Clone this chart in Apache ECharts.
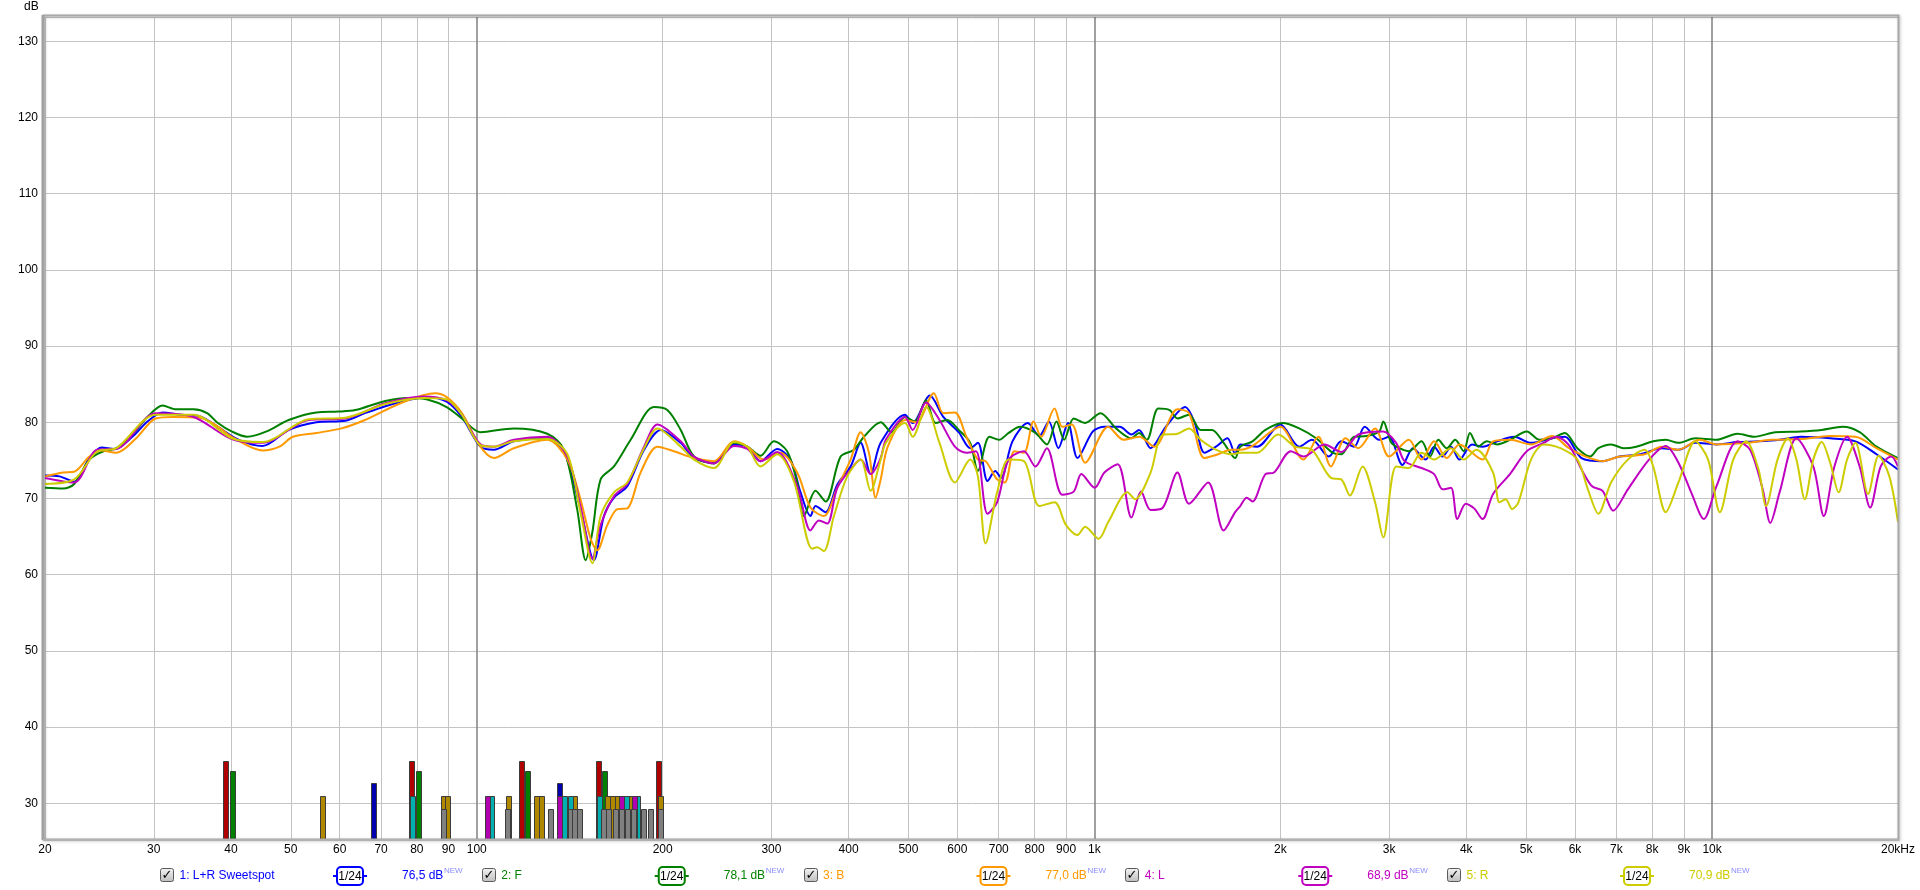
<!DOCTYPE html>
<html><head><meta charset="utf-8">
<script src="https://cdn.jsdelivr.net/npm/echarts@6/dist/echarts.min.js"></script>
<style>html,body{margin:0;padding:0;background:#fff}#c{width:1920px;height:890px}</style>
</head><body><div id="c"></div><script>
// ---------- data ----------
const freqTicks = [20,30,40,50,60,70,80,90,100,200,300,400,500,600,700,800,900,1000,2000,3000,4000,5000,6000,7000,8000,9000,10000,20000];
const freqTickLabels = ['20','30','40','50','60','70','80','90','100','200','300','400','500','600','700','800','900','1k','2k','3k','4k','5k','6k','7k','8k','9k','10k','20kHz'];
const decadeFreqs = [100,1000,10000];

const seriesNames = ['1: L+R Sweetspot','2: F','3: B','4: L','5: R'];
const seriesColors = ['#0000ff','#008000','#ff9900','#c000c0','#cccc00'];
const seriesLevels = ['76,5 dB','78,1 dB','77,0 dB','68,9 dB','70,9 dB'];

const sweetspot = [[20,73.0],[21.1,72.9],[22.3,72.2],[23.6,75.3],[24.7,76.7],[25.9,76.5],[27.7,78.1],[29.3,80.1],[31.0,81.3],[33.1,81.0],[35.6,80.8],[38.1,79.4],[41.2,77.7],[45.0,76.9],[49.6,79.0],[55,80.0],[61.3,80.2],[65.9,81.2],[75.3,82.7],[83.2,83.3],[89.4,82.7],[94.6,80.7],
[101.4,76.8],[106.6,76.4],[114.8,77.5],[130.1,77.9],[138.4,76.2],[147.2,68.6],[154.8,61.9],[160.7,67.7],[166.8,70.1],[175.3,71.6],[186.6,76.4],[198.5,79.0],[213.9,77.3],[224.8,75.3],[242.2,74.7],[260.9,77.1],[274.2,76.8],[288.1,74.9],[306.5,76.5],[322.1,75.1],[334.4,70.8],[347.1,67.7],[353.6,69.0],[367.1,68.2],[383.4,71.8],[403,74.2],[418.4,77.3],[434.2,73.2],[450.8,77.3],
[493.6,81.0],[507.9,79.9],[541.6,83.5],[569.4,80.7],[603,78.7],[629.4,76.6],[647.7,77.3],[671.4,72.3],[690.9,73.6],[705.8,72.7],[736.8,77.5],[780.1,79.9],[814.2,78.2],[843.8,80.1],[874.4,76.6],[906.2,79.9],[939.1,75.3],[994.3,78.8],[1038,79.4],[1099,79.4],[1148,78.4],[1181,79.0],[1233,76.6],[1305,79.4],[1403,82.0],[1454,79.9],[1507,76.0],[1573,76.8],[1642,77.9],[1690,75.9],
[1722,77.1],[1834,76.8],[2000,79.7],[2147,76.8],[2250,77.7],[2396,75.5],[2510,77.5],[2633,76.8],[2739,79.4],[2892,77.7],[3000,78.1],[3153,74.4],[3280,76.6],[3438,75.1],[3548,76.8],[3661,75.5],[3778,76.8],[3899,75.1],[4087,77.1],[4250,76.8],[4491,77.5],[4782,78.1],[5092,77.3],[5508,77.9],[5776,78.1],[6148,75.3],[6649,74.9],[7080,75.5],[7663,75.8],[8284,76.6],[8822,76.4],[9394,77.3],[10164,77.1],[10994,77.4],[11892,77.5],[12862,77.7],[13916,78.1],[15530,77.9],[17066,77.5],[18462,75.8],[20000,73.8]];

const front = [[20,71.4],[21.4,71.3],[22.3,71.9],[23.6,75.1],[24.7,76.1],[26.1,76.6],[27.7,78.4],[29.3,80.7],[31.0,82.2],[32.6,81.7],[34.8,81.7],[36.6,81.2],[38.1,79.9],[40.1,78.8],[42.5,78.1],[45.7,78.8],[49.6,80.3],[55,81.3],[59.7,81.4],[63.6,81.6],[71.1,82.8],[77.5,83.2],[83.2,83.0],[89.4,82.0],[94.6,80.5],
[101.4,78.7],[114.8,79.2],[130.1,78.5],[138.4,76.4],[145.4,68.6],[150.1,61.9],[153.9,65.6],[158.7,72.5],[166.8,74.2],[177.5,77.7],[193.6,82.0],[203.5,81.6],[213.9,79.0],[224.8,75.5],[242.2,74.6],[260.9,77.3],[274.2,76.8],[288.1,75.6],[302.7,77.5],[318.1,76.2],[330.2,72.1],[338.6,67.7],[353.6,71.0],[367.1,69.6],[388.2,75.5],[408.1,76.4],[423.6,78.1],[450.8,80.0],
[469.6,78.7],[493.6,80.7],[511.6,80.1],[534,82.9],[553.4,79.9],[577.7,80.3],[603,79.0],[629.4,77.3],[647.7,73.6],[676.2,78.1],[700.8,77.7],[726.4,78.6],[758.1,79.4],[802.7,78.6],[837.8,77.1],[868.2,80.1],[893.3,77.7],[925.8,80.5],[966.3,79.9],[1023,81.2],[1084,79.2],[1148,77.9],[1181,78.6],[1216,77.7],[1269,81.8],[1324,81.6],[1363,80.5],[1423,81.0],[1486,79.0],[1550,79.0],[1619,77.3],[1690,75.3],
[1722,76.8],[1803,77.5],[1892,79.0],[2016,79.9],[2146,79.2],[2285,77.9],[2432,76.0],[2510,75.8],[2633,78.1],[2759,78.2],[2892,78.8],[2936,80.1],[3026,77.3],[3118,76.6],[3229,76.2],[3385,77.5],[3494,75.5],[3605,77.7],[3719,76.6],[3839,77.7],[3962,76.2],[4055,78.6],[4184,76.8],[4318,77.5],[4491,77.1],[4707,77.7],[5012,78.8],[5255,77.7],[5508,77.9],[5776,78.6],[6053,76.6],[6345,75.5],[6546,76.6],[6862,77.1],[7192,76.6],[7540,76.8],[8030,77.5],[8416,77.7],[8822,77.3],[9394,77.9],[10164,77.7],[10994,78.5],[11706,78.1],[12662,78.7],[13916,78.8],[15046,79.0],[16276,79.4],[17334,78.7],[18462,76.8],[20000,75.3]];

const back = [[20,72.9],[21.4,73.4],[22.3,73.5],[23.6,75.5],[24.7,76.3],[26.1,76.0],[28.1,77.9],[30.2,80.5],[32.3,80.7],[35.6,80.6],[37.7,79.7],[40.1,78.1],[45.0,76.3],[47.9,76.8],[50.4,78.1],[55,78.6],[60.4,79.2],[65.9,80.3],[75.3,82.5],[85.6,83.8],[89.4,83.3],[94.6,81.2],
[101.4,76.8],[106.6,75.3],[114.8,76.6],[130.1,77.7],[140.2,75.1],[147.2,69.9],[152.9,64.7],[156.7,63.2],[162.7,66.5],[168.9,68.6],[175.3,68.7],[184.2,73.4],[196.1,76.8],[208.6,76.2],[224.8,75.3],[242.2,74.9],[260.9,77.5],[274.2,76.8],[291.7,75.1],[310.3,76.0],[330.2,73.4],[347.1,68.8],[364.8,67.7],[383.4,71.4],[403,75.1],[418.4,78.7],[431.5,76.0],[442.4,70.1],[450.8,72.5],
[462.9,76.8],[493.6,80.3],[515.3,80.0],[549.4,83.8],[569.4,81.2],[594.5,81.3],[620.5,78.1],[647.7,75.1],[666.6,74.9],[695.8,72.5],[716,72.1],[742.1,76.2],[769,76.0],[797,80.1],[820.1,78.1],[862,81.8],[887,79.4],[919.2,79.7],[966.3,74.7],[1053,79.4],[1115,77.7],[1181,78.1],[1251,76.8],[1363,81.7],[1423,81.2],[1507,75.3],[1573,75.7],[1666,76.4],
[1722,76.4],[1803,76.9],[2000,79.4],[2180,75.1],[2304,78.1],[2415,74.2],[2550,77.9],[2675,76.6],[2847,79.2],[3000,75.5],[3229,77.7],[3385,75.1],[3548,77.5],[3719,75.3],[3899,77.1],[4250,75.1],[4421,77.5],[4707,77.7],[5092,77.1],[5508,78.2],[5866,76.6],[6245,75.5],[6649,74.9],[7080,75.5],[7781,75.8],[8284,76.8],[8822,76.4],[9544,77.7],[10164,77.1],[11350,77.3],[12462,77.7],[13916,77.8],[15530,78.2],[17066,78.1],[18462,76.6],[20000,75.1]];

const left = [[20,72.7],[22.3,72.1],[24.3,76.4],[26.1,76.5],[30.2,81.2],[34.8,80.7],[40.1,77.8],[45.0,77.3],[53.4,80.3],[61.3,80.5],[71.1,82.5],[82.0,83.4],[89.4,82.9],[94.6,81.0],
[101.4,77.1],[106.6,76.8],[114.8,77.7],[130.1,78.1],[140.2,75.5],[147.2,69.0],[153.9,62.1],[158.7,66.5],[166.8,70.3],[175.3,71.9],[186.6,76.8],[196.1,79.7],[213.9,77.5],[224.8,75.5],[242.2,74.6],[260.9,76.9],[274.2,76.5],[288.1,74.9],[306.5,76.1],[330.2,71.6],[347.1,65.8],[358,67.1],[369.4,66.7],[383.4,71.4],[403,73.8],[418.4,75.1],[434.2,73.2],[450.8,75.3],
[459.6,77.7],[493.6,80.7],[507.9,79.0],[534,82.6],[561.3,80.3],[594.5,76.8],[620.5,76.0],[643.1,76.2],[671.4,68.0],[695.8,69.5],[726.4,75.1],[769,76.2],[802.7,74.2],[837.8,76.6],[887,70.5],[925.8,70.9],[952.6,73.2],[1001,71.4],[1038,73.4],[1091,74.5],[1148,67.5],[1190,70.9],[1233,68.5],[1287,68.7],[1363,73.4],[1423,69.3],[1528,72.1],[1619,65.8],[1690,68.2],
[1722,69.0],[1764,70.1],[1803,69.6],[1892,73.2],[1953,73.4],[2080,76.2],[2180,75.5],[2358,77.1],[2510,76.1],[2675,78.4],[2936,78.8],[3080,77.3],[3178,74.9],[3385,74.0],[3548,73.2],[3661,71.2],[3778,71.4],[3869,67.3],[3992,69.3],[4119,68.7],[4250,67.3],[4421,70.6],[4707,73.2],[5012,76.2],[5338,77.3],[5594,78.1],[5866,77.0],[6148,73.8],[6393,71.6],[6649,71.0],[6916,68.4],[7306,71.2],[7906,75.1],[8416,76.9],[8822,74.7],[9252,70.8],[9698,67.3],[10164,71.6],[10994,77.5],[11524,76.4],[12078,71.2],[12424,66.8],[12862,70.8],[13696,77.9],[14586,74.2],[15168,67.7],[15778,74.2],[16540,78.1],[17334,74.2],[18032,68.8],[18752,74.2],[19504,75.5],[20000,74.2]];

const right = [[20,71.9],[22.3,72.5],[24.3,76.2],[26.1,76.6],[30.2,81.0],[34.8,81.0],[40.1,77.9],[45.0,77.4],[53.4,80.4],[61.3,80.6],[71.1,82.4],[82.0,83.2],[89.4,83.0],[94.6,81.0],
[101.4,77.0],[106.6,76.8],[114.8,77.5],[130.1,77.8],[140.2,75.8],[147.2,68.2],[153.9,61.5],[158.7,67.7],[166.8,70.8],[175.3,72.1],[186.6,76.6],[196.1,79.2],[213.9,76.8],[224.8,75.1],[242.2,74.0],[260.9,77.4],[274.2,76.8],[288.1,74.2],[306.5,75.8],[326.1,72.3],[349.2,63.4],[355.8,63.6],[364.8,63.1],[378.7,67.7],[398,72.9],[418.4,75.1],[434.2,71.0],[450.8,75.1],
[459.6,77.3],[493.6,79.9],[507.9,78.1],[534,82.0],[561.3,77.3],[594.5,72.1],[629.4,75.1],[647.7,72.9],[666.6,64.1],[695.8,70.8],[726.4,75.1],[769,74.9],[814.2,69.0],[862,69.5],[899.7,66.5],[939.1,65.2],[966.3,66.3],[1016,64.7],[1053,66.9],[1131,70.8],[1164,69.9],[1233,73.4],[1287,78.3],[1363,78.5],[1423,79.2],[1486,77.7],[1573,76.4],[1666,75.8],
[1722,76.0],[1834,76.0],[1984,78.4],[2113,76.8],[2250,76.4],[2415,72.7],[2510,72.5],[2592,70.4],[2717,74.2],[2847,69.5],[2936,64.9],[3080,74.2],[3229,74.0],[3385,76.0],[3548,75.1],[3778,76.6],[3962,75.1],[4152,76.4],[4421,73.4],[4526,69.5],[4634,69.9],[4745,68.6],[4858,69.5],[5092,75.1],[5338,77.1],[5682,76.6],[6053,75.1],[6294,71.2],[6546,68.0],[6862,72.1],[7306,75.1],[7781,76.4],[8030,74.2],[8416,68.2],[8822,72.1],[9394,77.5],[9853,75.1],[10294,68.2],[10822,75.1],[11350,77.5],[11892,73.8],[12230,69.0],[12762,75.1],[13270,77.9],[13696,75.1],[14132,69.9],[14586,75.1],[15046,77.4],[15530,74.7],[16028,70.8],[16540,75.1],[17066,77.3],[17890,70.6],[18606,75.6],[19352,73.0],[20000,66.9]];

// bottom marker bars: frequency lists per colour group, with their level in dB
const barRedFreqs = [39.3,78.7,118.3,157.9,197.6];
const barGreenFreqs = [40.25,80.5,120.9,161.4];
const barBlueFreqs = [68.1,136.3];
const barOliveFreqs = [56.3,88.4,89.7,112.7,125.2,127.5,144.3,163.4,166.5,169.2,177.3,199];
const barCyanFreqs = [78.9,105.9,138.8,142.1,158.5,175.1,182.7];
const barMagentaFreqs = [104.3,136.3,171.8,180.4];
const barGrayFreqs = [88.4,112.3,131.8,142.1,144.3,147,160.5,164,168,172,176,180,186.4,191.2,199];
const barLevels = [35.6,34.2,32.6,31.0,31.0,31.0,29.3];
const barColors = ['#b00000','#008000','#0000b0','#b08800','#00b0b0','#b000b0','#808080'];
const barFreqGroups = [barRedFreqs,barGreenFreqs,barBlueFreqs,barOliveFreqs,barCyanFreqs,barMagentaFreqs,barGrayFreqs];

const Y_MIN = 25.3, Y_MAX = 133.2;
const FONT = '"Liberation Sans", Arial, sans-serif';

// ---------- build ----------
const barData = [];
barFreqGroups.forEach((g, gi) => g.forEach(f => barData.push([f, barLevels[gi], gi])));

const gridMarks = freqTicks.map((f, i) => {
  const major = decadeFreqs.indexOf(f) >= 0;
  return {
    xAxis: f,
    label: { formatter: freqTickLabels[i] },
    lineStyle: { color: major ? '#808080' : '#c4c4c4', width: major ? 1.5 : 1, type: 'solid' }
  };
});

const curveData = [sweetspot, front, back, left, right];
const series = [];
series.push({
  type: 'line', data: [[20, Y_MIN]], symbol: 'none', lineStyle: { opacity: 0 }, silent: true, z: 1,
  markLine: {
    silent: true, symbol: ['none','none'], z: 1, animation: false,
    label: { show: true, position: 'start', distance: 5, color: '#000', fontSize: 12, fontFamily: FONT },
    data: gridMarks
  }
});
series.push({
  type: 'custom', z: 4, silent: true, clip: true,
  data: barData,
  encode: { x: 0, y: 1 },
  renderItem: (params, api) => {
    const f = api.value(0), lv = api.value(1), ci = api.value(2);
    const top = api.coord([f, lv]);
    const bot = api.coord([f, Y_MIN]);
    return { type: 'rect', shape: { x: Math.round(top[0]) - 2.5, y: Math.round(top[1]) + 0.5, width: 5, height: bot[1] - top[1] },
      style: { fill: barColors[ci], stroke: '#3c3c3c', lineWidth: 1 } };
  }
});
curveData.forEach((d, i) => series.push({
  type: 'line', name: seriesNames[i], data: d, symbol: 'none', showSymbol: false, smooth: 0.3,
  lineStyle: { color: seriesColors[i], width: 2 }, itemStyle: { color: seriesColors[i] }, z: 5 + i, clip: true, silent: true
}));

// legend graphics
const graphics = [];
graphics.push({ type: 'text', left: 24, top: 1, style: { text: 'dB', fontSize: 12, fontFamily: FONT, fill: '#000' } });
graphics.push({ type: 'rect', shape: { x: 43.5, y: 15.5, width: 1855, height: 824 }, style: { fill: 'none', stroke: '#a8a8a8', lineWidth: 2, shadowBlur: 3, shadowColor: 'rgba(0,0,0,0.25)', shadowOffsetX: 1, shadowOffsetY: 1 }, z: 100, silent: true });
graphics.push({ type: 'line', shape: { x1: 43, y1: 15, x2: 43, y2: 840 }, style: { stroke: '#a0a0a0', lineWidth: 3 }, z: 101 });
graphics.push({ type: 'line', shape: { x1: 43, y1: 840, x2: 1899, y2: 840 }, style: { stroke: '#b0b0b0', lineWidth: 2 }, z: 101 });
const LY = 876;
seriesNames.forEach((name, i) => {
  const x0 = 160 + i * 321.75;
  const c = seriesColors[i];
  graphics.push({ type: 'rect', shape: { x: Math.round(x0) + 0.5, y: LY - 7.5, width: 13, height: 13, r: 2 },
    style: { fill: new echarts.graphic.LinearGradient(0,0,0,1,[{offset:0,color:'#f4f4f4'},{offset:1,color:'#bdbdbd'}]), stroke: '#5a5a5a', lineWidth: 1 }, z: 10 });
  graphics.push({ type: 'text', x: Math.round(x0) + 7, y: LY, style: { text: '✓', fontSize: 13, fontWeight: 'bold', fontFamily: '"DejaVu Sans", sans-serif', fill: '#000', align: 'center', verticalAlign: 'middle' }, z: 11 });
  graphics.push({ type: 'text', x: x0 + 19.5, y: LY, style: { text: name, fontSize: 12, fontFamily: FONT, fill: c, verticalAlign: 'middle' }, z: 11 });
  const ix = x0 + 173;
  graphics.push({ type: 'line', shape: { x1: ix, y1: LY, x2: ix + 34, y2: LY }, style: { stroke: c, lineWidth: 2 }, z: 10 });
  graphics.push({ type: 'rect', shape: { x: ix + 4, y: LY - 9, width: 26, height: 18, r: 4 }, style: { fill: '#fff', stroke: c, lineWidth: 2 }, z: 11 });
  graphics.push({ type: 'text', x: ix + 17, y: LY + 1, style: { text: '1/24', fontSize: 12, fontFamily: FONT, fill: '#000', align: 'center', verticalAlign: 'middle' }, z: 12 });
  const vx = x0 + 242;
  graphics.push({ type: 'text', x: vx, y: LY, style: { text: seriesLevels[i], fontSize: 12, fontFamily: FONT, fill: c, verticalAlign: 'middle' }, z: 11 });
  graphics.push({ type: 'text', x: vx + 42, y: LY - 9, style: { text: 'NEW', fontSize: 8, fontFamily: FONT, fill: '#8c8cff', verticalAlign: 'top' }, z: 11 });
});

const chart = echarts.init(document.getElementById('c'), null, { renderer: 'canvas' });
chart.setOption({
  animation: false,
  backgroundColor: '#fff',
  grid: { left: 45, right: 22, top: 17, bottom: 51, show: false },
  xAxis: {
    type: 'log', logBase: 10, min: 20, max: 20000,
    axisLine: { show: false }, axisTick: { show: false }, axisLabel: { show: false },
    splitLine: { show: false }, minorSplitLine: { show: false }
  },
  yAxis: {
    type: 'value', min: Y_MIN, max: Y_MAX, splitNumber: 10,
    axisLine: { show: false }, axisTick: { show: false },
    axisLabel: { color: '#000', fontSize: 12, fontFamily: FONT, margin: 7,
      formatter: v => (Math.abs(v - Math.round(v / 10) * 10) < 1e-6 ? String(Math.round(v)) : '') },
    splitLine: { show: true, lineStyle: { color: '#c4c4c4', width: 1 } }
  },
  series: series,
  graphic: graphics
});
</script></body></html>
